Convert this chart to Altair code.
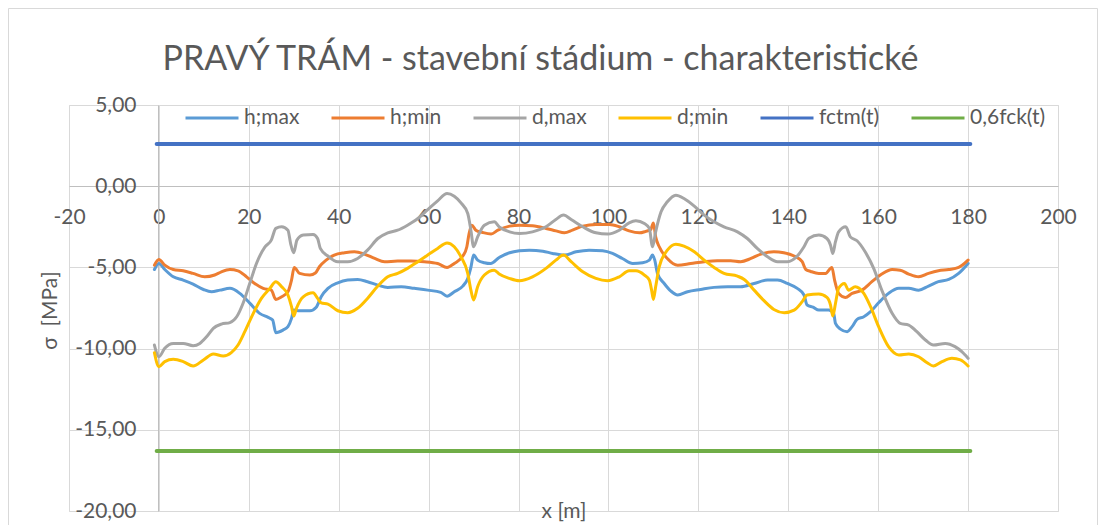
import altair as alt
import pandas as pd

series_names = ["h;max", "h;min", "d,max", "d;min", "fctm(t)", "0,6fck(t)"]
series_colors = ["#5B9BD5", "#ED7D31", "#A5A5A5", "#FFC000", "#4472C4", "#70AD47"]

x_ticks = [-20, 0, 20, 40, 60, 80, 100, 120, 140, 160, 180, 200]
y_ticks = [-20, -15, -10, -5, 0, 5]

hmax_x = [-1.0, 0.0, 1.3, 3.2, 5.4, 7.6, 9.9, 11.7, 13.6, 15.8, 18.0, 20.2, 22.4, 24.3, 25.3, 26.0, 27.6, 28.7, 29.5, 30.0,
          31.3, 33.6, 35.0, 36.1, 37.6, 39.8, 42.0, 44.2, 46.4, 48.7, 50.9, 53.9, 56.8, 59.8, 62.7, 64.1, 65.7, 67.6, 68.7,
          69.4, 70.0, 70.9, 72.4, 73.8, 75.7, 78.0, 80.2, 82.4, 85.4, 87.6, 90.2, 92.8, 95.7, 98.7, 100.9, 103.1, 105.4,
          107.6, 109.1, 109.8, 110.3, 110.9, 112.4, 113.9, 115.4, 117.6, 120.5, 123.5, 126.5, 129.4, 132.4, 135.4, 137.6,
          139.8, 142.0, 143.5, 144.2, 145.5, 146.8, 149.0, 150.1, 150.5, 151.6, 153.1, 154.2, 155.3, 156.8, 158.3, 160.1,
          162.3, 164.6, 166.8, 169.0, 171.2, 173.4, 175.7, 177.9, 180.0]
hmax_y = [-5.13, -4.76, -5.13, -5.58, -5.78, -6.03, -6.36, -6.50, -6.40, -6.29, -6.60, -7.20, -7.83, -8.08, -8.24, -9.02,
          -8.86, -8.65, -8.14, -7.63, -7.67, -7.67, -7.45, -6.80, -6.29, -5.95, -5.78, -5.74, -5.88, -6.09, -6.23, -6.19,
          -6.29, -6.40, -6.54, -6.77, -6.50, -6.15, -5.68, -5.00, -4.24, -4.55, -4.71, -4.76, -4.39, -4.10, -3.98, -3.94,
          -4.00, -4.14, -4.24, -4.04, -3.94, -3.98, -4.14, -4.45, -4.76, -4.71, -4.55, -4.24, -4.55, -5.37, -5.99, -6.46,
          -6.70, -6.50, -6.36, -6.23, -6.19, -6.19, -5.99, -5.78, -5.78, -5.99, -6.29, -6.70, -7.32, -7.45, -7.63, -7.63,
          -7.83, -8.45, -8.80, -8.96, -8.65, -8.20, -8.04, -7.73, -7.18, -6.60, -6.29, -6.29, -6.40, -6.15, -5.88, -5.74,
          -5.37, -4.76]

hmin_x = [-1.0, 0.0, 1.3, 3.2, 5.4, 7.6, 10.2, 12.4, 13.9, 15.8, 17.6, 19.5, 21.3, 23.2, 25.0, 26.0, 27.3, 28.7, 29.5, 30.1,
          31.3, 33.6, 34.8, 35.7, 37.2, 39.0, 41.3, 43.5, 45.7, 48.0, 50.2, 53.1, 56.1, 59.0, 62.0, 64.1, 65.7, 67.6, 68.5,
          69.0, 69.6, 70.5, 72.0, 73.9, 75.4, 78.0, 80.2, 83.1, 86.1, 88.3, 90.2, 92.0, 94.3, 97.2, 100.2, 102.4, 104.6,
          106.9, 108.3, 109.4, 110.0, 110.5, 111.3, 113.1, 115.4, 118.3, 121.3, 124.2, 127.2, 129.4, 131.7, 133.9, 136.8,
          139.0, 141.3, 143.1, 143.9, 145.0, 146.8, 148.3, 149.7, 150.3, 151.2, 152.7, 154.2, 156.4, 158.6, 160.8, 163.1,
          164.9, 166.8, 169.0, 171.2, 173.4, 175.7, 177.9, 180.0]
hmin_y = [-4.86, -4.51, -4.86, -5.13, -5.21, -5.37, -5.58, -5.47, -5.27, -5.13, -5.21, -5.58, -5.99, -6.29, -6.40, -6.97,
          -6.81, -6.50, -5.78, -5.00, -5.37, -5.47, -5.35, -4.96, -4.55, -4.24, -4.10, -4.04, -4.18, -4.45, -4.65, -4.61,
          -4.61, -4.65, -4.76, -5.00, -4.76, -4.30, -3.73, -2.91, -2.40, -2.71, -2.85, -2.95, -2.71, -2.46, -2.40, -2.44,
          -2.60, -2.75, -2.87, -2.71, -2.46, -2.36, -2.36, -2.50, -2.75, -2.87, -2.78, -2.67, -2.26, -3.12, -3.73, -4.45,
          -4.86, -4.76, -4.65, -4.59, -4.59, -4.65, -4.45, -4.18, -4.04, -4.10, -4.30, -4.65, -5.13, -5.25, -5.37, -5.37,
          -5.00, -5.78, -6.60, -6.85, -6.60, -6.40, -5.88, -5.41, -5.13, -5.17, -5.41, -5.58, -5.37, -5.21, -5.13, -5.00,
          -4.55]

dmax_x = [-1.0, 0.0, 1.3, 3.2, 5.4, 7.6, 9.1, 10.6, 12.1, 13.9, 15.8, 17.3, 18.7, 20.2, 21.7, 23.6, 25.0, 26.0, 27.3, 28.7,
          29.3, 30.0, 30.7, 32.1, 34.3, 35.3, 35.9, 37.6, 39.8, 42.0, 44.2, 46.4, 48.7, 50.9, 53.1, 55.3, 57.6, 59.8, 62.0,
          64.1, 65.7, 67.2, 68.7, 69.4, 70.0, 70.9, 72.4, 74.6, 75.7, 78.0, 80.2, 83.1, 86.1, 88.3, 90.0, 91.7, 94.3, 97.2,
          99.8, 102.4, 104.6, 106.1, 108.0, 109.1, 109.8, 110.5, 111.7, 113.1, 115.0, 116.8, 119.1, 121.3, 123.5, 125.7,
          128.7, 130.9, 133.1, 135.4, 137.6, 139.8, 142.0, 143.5, 144.6, 146.8, 148.6, 149.4, 149.9, 150.5, 151.2, 152.8,
          153.8, 155.3, 157.1, 159.0, 160.8, 163.1, 164.9, 166.8, 168.6, 170.5, 172.3, 174.9, 177.1, 178.6, 180.0]
dmax_y = [-9.78, -10.50, -9.98, -9.68, -9.68, -9.82, -9.68, -9.27, -8.75, -8.49, -8.40, -8.04, -7.22, -5.99, -4.76, -3.73,
          -3.32, -2.60, -2.50, -2.71, -3.53, -4.10, -3.32, -3.01, -2.97, -3.22, -3.83, -4.30, -4.65, -4.65, -4.45, -3.94,
          -3.22, -2.87, -2.71, -2.40, -1.99, -1.44, -0.90, -0.45, -0.62, -1.03, -1.68, -2.71, -3.73, -3.12, -2.40, -2.19,
          -2.50, -2.81, -2.91, -2.81, -2.50, -2.05, -1.78, -2.05, -2.50, -2.87, -2.95, -2.71, -2.26, -2.13, -2.30, -2.60,
          -3.73, -2.81, -1.58, -0.96, -0.55, -0.76, -1.23, -1.78, -2.19, -2.50, -2.81, -3.22, -3.83, -4.35, -4.65, -4.65,
          -4.30, -3.73, -3.20, -3.01, -3.22, -3.63, -4.14, -3.42, -2.81, -2.50, -3.12, -3.36, -4.04, -5.06, -6.40, -7.83,
          -8.45, -8.55, -8.96, -9.47, -9.78, -9.68, -9.88, -10.19, -10.60]

dmin_x = [-1.0, 0.0, 1.3, 3.2, 5.4, 7.6, 9.9, 12.1, 14.3, 16.1, 17.6, 19.1, 21.0, 22.8, 24.7, 26.0, 27.3, 28.7, 29.5, 30.0,
          30.6, 32.1, 34.3, 35.3, 36.1, 37.6, 39.8, 42.0, 44.2, 46.4, 48.7, 50.9, 53.1, 55.3, 57.6, 59.8, 62.0, 64.1, 65.7,
          67.2, 68.7, 69.4, 70.0, 70.9, 72.4, 74.6, 75.7, 78.0, 80.2, 83.1, 86.1, 88.3, 90.0, 91.7, 94.3, 97.2, 99.8, 102.4,
          104.6, 106.1, 108.0, 109.1, 109.6, 110.0, 110.5, 111.3, 113.1, 115.0, 116.8, 119.1, 121.3, 123.5, 125.7, 128.7,
          130.2, 132.4, 134.6, 136.8, 139.1, 141.3, 143.1, 144.2, 146.8, 148.6, 149.4, 149.9, 150.5, 151.2, 152.5, 153.4,
          154.9, 156.8, 158.3, 160.1, 162.3, 164.6, 166.8, 169.0, 170.9, 172.3, 174.2, 176.4, 178.3, 180.0]
dmin_y = [-10.25, -11.11, -10.80, -10.66, -10.80, -11.07, -10.70, -10.33, -10.46, -10.25, -9.78, -8.96, -7.83, -6.91, -6.29,
          -5.88, -6.19, -6.70, -7.42, -8.00, -7.52, -6.81, -6.56, -6.91, -7.18, -7.26, -7.67, -7.79, -7.52, -6.91, -6.15,
          -5.58, -5.37, -5.06, -4.65, -4.24, -3.83, -3.49, -3.73, -4.35, -5.37, -6.40, -7.01, -6.19, -5.47, -5.17, -5.41,
          -5.68, -5.82, -5.58, -5.06, -4.55, -4.24, -4.65, -5.27, -5.68, -5.82, -5.58, -5.21, -5.21, -5.47, -5.78, -6.40,
          -6.97, -6.19, -4.96, -3.94, -3.57, -3.69, -4.04, -4.55, -5.00, -5.37, -5.54, -5.74, -6.40, -7.05, -7.59, -7.79,
          -7.63, -7.11, -6.70, -6.64, -6.85, -7.32, -8.00, -7.22, -6.29, -5.99, -6.40, -6.19, -6.60, -7.42, -8.65, -9.88,
          -10.39, -10.33, -10.50, -10.87, -11.07, -10.80, -10.60, -10.70, -11.07]

fctm_x = [-0.5, 180.5]
fctm_y = [2.6, 2.6]
fck_x = [-0.5, 180.5]
fck_y = [-16.3, -16.3]


def long_table(items):
    rows = []
    for name, xs, ys in items:
        for i, (a, b) in enumerate(zip(xs, ys)):
            rows.append({"x": a, "y": b, "s": name, "i": i})
    return pd.DataFrame(rows)


curves = long_table([("h;max", hmax_x, hmax_y), ("h;min", hmin_x, hmin_y),
                     ("d,max", dmax_x, dmax_y), ("d;min", dmin_x, dmin_y)])
limits = long_table([("fctm(t)", fctm_x, fctm_y), ("0,6fck(t)", fck_x, fck_y)])

FONT = "Lato"
TXT = "#595959"

xenc = alt.X("x:Q",
             scale=alt.Scale(domain=[-20, 200], nice=False, zero=False),
             axis=alt.Axis(values=x_ticks, offset=-325, grid=True, gridColor="#d9d9d9", gridWidth=1,
                           domainColor="#bfbfbf", domainWidth=1, ticks=False, labelPadding=20,
                           labelFont=FONT, labelFontSize=21, labelColor=TXT, labelFlush=False,
                           labelOverlap=False,
                           labelExpr="(datum.value < 0 ? '-' : '') + format(abs(datum.value), 'd')",
                           title="x [m]", titleFont=FONT, titleFontSize=21, titleFontWeight="normal",
                           titleColor=TXT, titleY=325, titleBaseline="middle"))
yenc = alt.Y("y:Q",
             scale=alt.Scale(domain=[-20, 5], nice=False, zero=False),
             axis=alt.Axis(values=y_ticks, offset=-89, grid=True, gridColor="#d9d9d9", gridWidth=1,
                           domainColor="#bfbfbf", domainWidth=1, ticks=False, labelPadding=22,
                           labelFont=FONT, labelFontSize=21, labelColor=TXT, labelFlush=False,
                           labelOverlap=False,
                           labelExpr="(datum.value < 0 ? '-' : '') + replace(format(abs(datum.value), '.2f'), '.', ',')",
                           title="σ \u00a0[MPa]", titleFont=FONT, titleFontSize=21, titleFontWeight="normal",
                           titleColor=TXT, titleX=-108, titleY=205, titleBaseline="middle"))
color = alt.Color("s:N",
                  scale=alt.Scale(domain=series_names, range=series_colors),
                  legend=alt.Legend(title=None, orient="none", legendX=115, legendY=-15,
                                    direction="horizontal", columns=6, symbolType="stroke",
                                    symbolSize=2809, symbolStrokeWidth=3, labelFont=FONT,
                                    labelFontSize=21, labelColor=TXT, labelOffset=4,
                                    columnPadding=25, padding=0, gridAlign="each", labelLimit=0))

lines = alt.Chart(curves).mark_line(strokeWidth=3, interpolate="monotone", strokeCap="round",
                                    strokeJoin="round").encode(
    x=xenc, y=yenc, color=color, order="i:Q")
lims = alt.Chart(limits).mark_line(strokeWidth=4, strokeCap="round").encode(
    x="x:Q", y="y:Q", color="s:N", order="i:Q")
border = alt.Chart(pd.DataFrame({"a": [0]})).mark_rect(fillOpacity=0, stroke="#d9d9d9", strokeWidth=1).encode(
    x=alt.value(-60.5), x2=alt.value(1028.5), y=alt.value(-96.5), y2=alt.value(440))

chart = alt.layer(border, lines, lims).properties(
    width=989, height=406,
    title=alt.TitleParams(text="PRAVÝ TRÁM - stavební stádium - charakteristické", font=FONT, fontSize=34,
                          fontWeight="normal", color=TXT, anchor="middle", frame="group", offset=-96,
                          dx=-23, baseline="alphabetic"),
    autosize=alt.AutoSizeParams(type="none"),
    padding={"left": 61, "top": 97, "right": 40, "bottom": 14},
).configure_view(stroke=None).configure(background="white")

chart.save("out.html", embed_options={"renderer": "svg", "actions": False})
